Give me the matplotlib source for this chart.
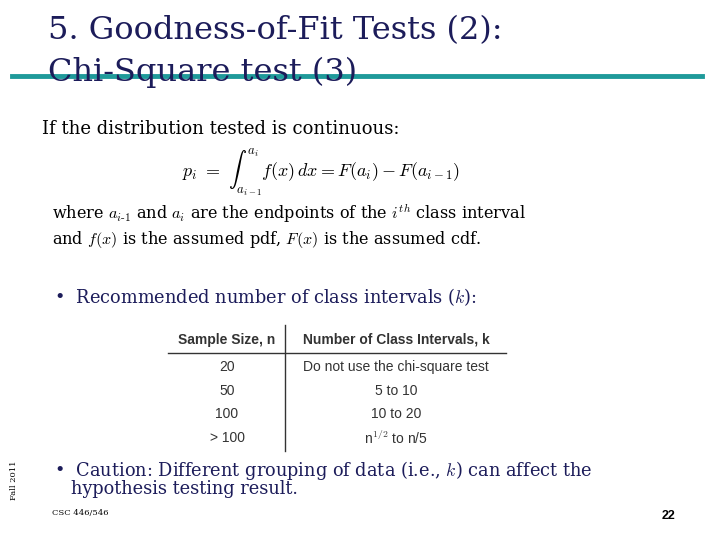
import matplotlib.pyplot as plt
from matplotlib.lines import Line2D

title_lines = ["5. Goodness-of-Fit Tests (2):", "Chi-Square test (3)"]
col_headers = ["Sample Size, n", "Number of Class Intervals, k"]
sample_sizes = ["20", "50", "100", "> 100"]
intervals = ["Do not use the chi-square test", "5 to 10", "10 to 20", r"n$^{1/2}$ to n/5"]

plt.rcParams["mathtext.fontset"] = "cm"
W, H = 720, 540
fig = plt.figure(figsize=(7.2, 5.4), dpi=100)
navy = "#1c1c5a"
serif = ["DejaVu Serif"]


def t(x, y, s, **kw):
    kw.setdefault("family", serif)
    kw.setdefault("va", "center")
    fig.text(x / W, 1 - y / H, s, **kw)


def line(x0, y0, x1, y1, **kw):
    fig.add_artist(Line2D([x0 / W, x1 / W], [1 - y0 / H, 1 - y1 / H], transform=fig.transFigure, **kw))


line(12, 76, 702, 76, color="#1f9a9a", lw=3.5)
t(48, 31, title_lines[0], fontsize=23, color=navy)
t(48, 72, title_lines[1], fontsize=23, color=navy)

t(42, 129, "If the distribution tested is continuous:", fontsize=13)
t(182, 172, r"$p_i\ =\ \int_{a_{i-1}}^{a_i} f(x)\,dx = F(a_i) - F(a_{i-1})$", fontsize=13)
t(52, 214, r"where $a_{i\text{-}1}$ and $a_i$ are the endpoints of the $i^{th}$ class interval", fontsize=11.6)
t(52, 240, r"and $f(x)$ is the assumed pdf, $F(x)$ is the assumed cdf.", fontsize=11.6)

t(54, 297, r"•  Recommended number of class intervals ($k$):", fontsize=12.8, color=navy)

sans = ["Liberation Sans", "DejaVu Sans"]
gray = "#333333"
line(285, 325, 285, 451, color="#333333", lw=1)
line(168, 353, 506, 353, color="#333333", lw=1)
t(227, 340, col_headers[0], family=sans, fontsize=10, ha="center", color=gray, weight="bold")
t(396, 340, col_headers[1], family=sans, fontsize=10, ha="center", color=gray, weight="bold")
row_y = [367, 391, 414, 438]
for y, n, k in zip(row_y, sample_sizes, intervals):
    t(227, y, n, family=sans, fontsize=10, ha="center", color=gray)
    t(396, y, k, family=sans, fontsize=10, ha="center", color=gray)

t(54, 470, r"•  Caution: Different grouping of data (i.e., $k$) can affect the", fontsize=12.8, color=navy)
t(71, 489, "hypothesis testing result.", fontsize=12.8, color=navy)

t(52, 513, "CSC 446/546", fontsize=6)
t(14, 480, "Fall 2011", fontsize=6, rotation=90, ha="center")
t(669, 516, "22", family=sans, fontsize=9, weight="bold", ha="center")

fig.savefig("out.png", dpi=100)
